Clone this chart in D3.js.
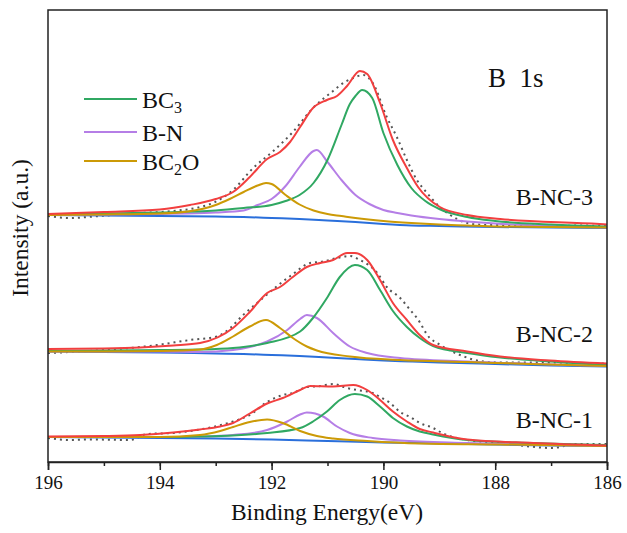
<!DOCTYPE html>
<html>
<head>
<meta charset="utf-8">
<script src="https://cdn.jsdelivr.net/npm/d3@7"></script>
<style>
  body { margin: 0; background: #fff; }
  svg { display: block; font-family: "Liberation Serif", "Times New Roman", serif; }
</style>
</head>
<body>
<svg id="svg1" width="627" height="533"></svg>
<script>
var width = 627;
var height = 533;

// tick labels and names
var energyTicks = [196, 194, 192, 190, 188, 186];
var sampleNames = ['B-NC-3', 'B-NC-2', 'B-NC-1'];
var componentNames = ['BC3', 'B-N', 'BC2O'];

// ---- B-NC-3 (top), pairs of [binding energy eV, intensity a.u.]
var nc3Raw = [[196,246],[195.61,244],[195.07,246],[194.35,249],[193.76,251],[193.28,255],[193.05,259],[192.69,272],[192.33,294],[191.97,311],[191.62,330],[191.26,354],[190.9,371],[190.69,380],[190.54,384],[190.36,387],[190.19,379],[189.94,345],[189.76,325],[189.58,302],[189.4,282],[189.22,269],[188.99,255],[188.68,243],[188.5,239],[188.15,237],[187.68,237],[187.02,236],[186.48,236.5],[186,236]];
var nc3Fit = [[196,248],[195,250],[194,252.5],[193.46,257],[193,263],[192.69,270],[192.39,285],[192.08,303],[191.85,310],[191.67,320],[191.49,335],[191.26,354],[191.01,362],[190.83,366],[190.65,376],[190.42,391],[190.29,388],[190.06,359],[189.83,322],[189.58,294],[189.38,275],[188.99,255],[188.5,247],[187.91,243],[186.13,238],[186,237.5]];
var nc3BC3 = [[196,247.5],[195,248.5],[194,249.5],[193,251.5],[192.5,254],[192,257],[191.75,261],[191.5,267],[191.25,279],[191,302],[190.75,337],[190.6,358],[190.5,366],[190.38,372],[190.2,364],[190,329],[189.75,297],[189.5,274],[189.25,261],[189,253],[188.5,245],[188,241],[187,237.5],[186,235.5]];
var nc3BN = [[196,247],[195,247.5],[194,248],[193.5,248.5],[193,249.5],[192.5,251.5],[192.25,257],[192,263],[191.75,276],[191.5,295],[191.25,311],[191.19,312],[191,300],[190.75,282],[190.5,267],[190.25,258],[190,252],[189.75,249],[189.5,246.5],[189,243],[188.5,240.5],[188,238.5],[187,236],[186,234.5]];
var nc3BC2O = [[196,247],[195,247.5],[194,248.5],[193.5,250.5],[193,257],[192.75,263],[192.5,270],[192.25,276.5],[192.1,279],[192,278],[191.75,267],[191.5,257.5],[191.25,251.5],[191,248],[190.75,246],[190.5,244],[190,241],[189.5,239],[189,237.5],[188.5,236.5],[188,235.5],[187,235],[186,234.5]];
var nc3Base = [[196,247],[195,246.5],[194,246],[193,245.5],[192.5,245],[192,244],[191.5,243],[191,241.5],[190.5,240],[190,238],[189.5,236.5],[189,236],[188,235],[187,234.5],[186,234]];

// ---- B-NC-2 (middle)
var nc2Raw = [[196,109],[195.61,110],[195,112],[194.35,115],[194.05,117],[193.46,122],[192.98,125.5],[192.74,134],[192.51,147],[192.26,159],[192.03,170],[191.81,180],[191.64,187],[191.31,199],[191.08,200.5],[190.83,204],[190.6,206],[190.42,202],[190.11,189],[189.94,175],[189.7,164],[189.52,152],[189.4,144],[189.17,124],[189.04,119],[188.63,107],[188.22,100.5],[187.91,99.5],[187.02,99.5],[186.13,98.5],[186,98.5]];
var nc2Fit = [[196,113],[195,113.5],[194.35,114.5],[193.76,116.5],[193.28,119],[192.69,134],[192.39,150],[192.08,169],[191.85,175],[191.62,185],[191.37,195],[191.13,199],[190.9,202],[190.65,209],[190.51,209],[190.29,202],[190.06,182],[189.83,159],[189.58,142],[189.35,127],[189.11,117],[188.5,110.5],[187.91,105.5],[187.02,101.5],[186,98.5]];
var nc2BC3 = [[196,111],[195,111.5],[194,112],[193.28,112.5],[192.69,114],[192.08,119],[191.49,130.5],[191.26,144],[191.01,164],[190.78,185],[190.51,197],[190.29,192],[190.06,172],[189.83,151],[189.58,135],[189.35,124],[189.11,116],[188.5,109],[187.91,104.5],[187.02,100.5],[186,97]];
var nc2BN = [[196,110.5],[194,110.5],[193.28,110],[192.69,112],[192.39,115],[192.08,120.5],[191.72,132],[191.49,143],[191.37,147],[191.19,144],[190.9,129],[190.6,115.5],[190.29,109],[189.7,104],[188.5,100.5],[186,96]];
var nc2BC2O = [[196,110.5],[195,110.5],[194,111],[193.28,112.5],[192.98,117],[192.69,125.5],[192.39,135.5],[192.1,142],[191.85,134],[191.62,124],[191.37,115.5],[191.19,111.5],[190.6,105.5],[189.7,102],[188.5,100],[187.38,98],[186,96]];
var nc2Base = [[196,110.5],[195,110],[194,109.5],[193,108.5],[192.5,108],[192,107],[191.5,106],[191,104.5],[190.5,103],[190,101.5],[189.5,100.5],[189,99.5],[188,98],[187,96.5],[186,95.5]];

// ---- B-NC-1 (bottom)
var nc1Raw = [[196,24],[195.61,22],[195.25,22.5],[194.53,22],[194.23,28],[193.76,29],[193.28,32.5],[192.98,36],[192.69,40.5],[192.39,47],[192.08,60],[191.8,67],[191.62,69],[191.37,75],[191.13,76],[190.9,78],[190.65,74],[190.47,72],[190.19,69],[190.06,65],[189.88,59],[189.7,50],[189.52,45],[189.35,39],[189.11,34],[188.95,29],[188.5,22],[187.91,19],[186.97,14],[186.57,18],[186,18]];
var nc1Fit = [[196,25.5],[195,26],[194.35,27],[193.76,29.5],[193.28,32.5],[192.92,35.5],[192.69,39],[192.39,48.5],[192.08,58.5],[191.8,64],[191.49,72],[191.31,76],[190.9,75.5],[190.54,77],[190.29,72],[190.06,62],[189.83,50.5],[189.58,40.5],[189.35,33],[189.11,29.5],[188.5,22.5],[187.32,19],[186,16.5]];
var nc1BC3 = [[196,25],[194,25],[193.28,25.5],[192.69,26.5],[192.08,29],[191.49,34],[191.26,40.5],[191.01,50.5],[190.78,62],[190.51,68],[190.29,65.5],[190.06,55.5],[189.83,44],[189.58,35.5],[189.35,30.5],[189.11,27.5],[188.5,22],[187.32,19],[186,17]];
var nc1BN = [[196,25],[194,25],[193.28,25.5],[192.69,27],[192.08,32],[191.72,40.5],[191.49,47.5],[191.37,49.5],[191.22,48.5],[191.08,45.5],[190.83,35.5],[190.6,29],[190.19,24],[189.7,21.5],[188.5,19],[186,16]];
var nc1BC2O = [[196,25],[194,25],[193.28,27],[192.92,31],[192.69,35],[192.39,40],[192.08,42.5],[191.8,39],[191.49,31],[191.19,26],[190.9,23.5],[190.29,21],[189.35,18.5],[187.91,17.5],[186,16]];
var nc1Base = [[196,25],[194,24],[193,23.5],[192,22.5],[191,21],[190,19.5],[189,18.5],[188,17.5],[187,16.5],[186,16]];

// where the sample names sit [energy, intensity]
var sampleLabelPos = [[186.25, 257], [186.25, 120.3], [186.25, 33.7]];

var colors = {
    raw: '#555555',
    fit: '#f23f3f',
    bc3: '#30a862',
    bn: '#b57ee6',
    bc2o: '#cc9a06',
    base: '#2a6fdb'
};

var spectra = [
    {raw: nc3Raw, fit: nc3Fit, bc3: nc3BC3, bn: nc3BN, bc2o: nc3BC2O, base: nc3Base},
    {raw: nc2Raw, fit: nc2Fit, bc3: nc2BC3, bn: nc2BN, bc2o: nc2BC2O, base: nc2Base},
    {raw: nc1Raw, fit: nc1Fit, bc3: nc1BC3, bn: nc1BN, bc2o: nc1BC2O, base: nc1Base}
];

var svg = d3.select('svg');

var x = d3.scaleLinear().domain([196, 186]).range([48, 607]);
var y = d3.scaleLinear().domain([0, 452]).range([462, 10]);

var line = d3.line()
    .x(function(d){ return x(d[0]); })
    .y(function(d){ return y(d[1]); })
    .curve(d3.curveMonotoneX);

// draw the three stacked spectra
spectra.forEach(function(s){
    var g = svg.append('g');
    g.append('path').attr('d', line(s.raw))
        .attr('fill', 'none').attr('stroke', colors.raw)
        .attr('stroke-width', 2).attr('stroke-dasharray', '2,4');
    g.append('path').attr('d', line(s.base))
        .attr('fill', 'none').attr('stroke', colors.base).attr('stroke-width', 2);
    g.append('path').attr('d', line(s.bn))
        .attr('fill', 'none').attr('stroke', colors.bn).attr('stroke-width', 2);
    g.append('path').attr('d', line(s.bc3))
        .attr('fill', 'none').attr('stroke', colors.bc3).attr('stroke-width', 2);
    g.append('path').attr('d', line(s.bc2o))
        .attr('fill', 'none').attr('stroke', colors.bc2o).attr('stroke-width', 2);
    g.append('path').attr('d', line(s.fit))
        .attr('fill', 'none').attr('stroke', colors.fit).attr('stroke-width', 2);
});

// frame
svg.append('rect')
    .attr('x', 48).attr('y', 10)
    .attr('width', 607 - 48).attr('height', 462 - 10)
    .attr('fill', 'none').attr('stroke', '#222').attr('stroke-width', 1.5);

// x axis, major + minor ticks
svg.append('g')
    .attr('transform', 'translate(0,462)')
    .call(d3.axisBottom(x).tickValues(d3.range(196, 185, -1)).tickSize(4).tickFormat(''))
    .call(function(g){ g.select('.domain').remove(); g.selectAll('line').attr('stroke', '#222').attr('stroke-width', 1.5); });

var xAxis = svg.append('g')
    .attr('transform', 'translate(0,462)')
    .call(d3.axisBottom(x).tickValues(energyTicks).tickSize(8).tickPadding(6).tickFormat(d3.format('d')));
xAxis.select('.domain').attr('stroke', '#222').attr('stroke-width', 1.5);
xAxis.selectAll('line').attr('stroke', '#222').attr('stroke-width', 1.5);
xAxis.selectAll('text')
    .attr('font-family', '"Liberation Serif", serif')
    .attr('font-size', 19).attr('fill', '#111');

svg.append('text')
    .attr('x', 327).attr('y', 520)
    .attr('text-anchor', 'middle')
    .attr('font-size', 23.5).attr('fill', '#111')
    .text('Binding Energy(eV)');

svg.append('text')
    .attr('transform', 'translate(28,228) rotate(-90)')
    .attr('text-anchor', 'middle')
    .attr('font-size', 23.5).attr('fill', '#111')
    .text('Intensity (a.u.)');

// sample labels
svg.selectAll('.sample')
    .data(sampleNames)
    .enter()
    .append('text')
    .attr('class', 'sample')
    .attr('x', function(d, i){ return x(sampleLabelPos[i][0]); })
    .attr('y', function(d, i){ return y(sampleLabelPos[i][1]); })
    .attr('text-anchor', 'end')
    .attr('font-size', 24).attr('fill', '#111')
    .text(function(d){ return d; });

svg.append('text')
    .attr('x', 488).attr('y', 87)
    .attr('font-size', 27).attr('fill', '#111')
    .attr('xml:space', 'preserve')
    .text('B  1s');

// legend
var legendColors = [colors.bc3, colors.bn, colors.bc2o];
var legendY = [99, 132, 161];
var legend = svg.selectAll('.legend')
    .data(componentNames)
    .enter()
    .append('g')
    .attr('class', 'legend')
    .attr('transform', function(d, i){ return 'translate(84,' + legendY[i] + ')'; });

legend.append('line')
    .attr('x1', 0).attr('x2', 53)
    .attr('stroke', function(d, i){ return legendColors[i]; })
    .attr('stroke-width', 2);

legend.append('text')
    .attr('x', 58).attr('y', 9)
    .attr('font-size', 24).attr('fill', '#111')
    .each(function(d){
        var t = d3.select(this);
        var m = d.match(/^([A-Z]+)(\d)(.*)$/);
        if (m) {
            t.append('tspan').text(m[1]);
            t.append('tspan').attr('font-size', 16).attr('dy', 5).text(m[2]);
            t.append('tspan').attr('dy', -5).text(m[3]);
        } else {
            t.text(d);
        }
    });
</script>
</body>
</html>
